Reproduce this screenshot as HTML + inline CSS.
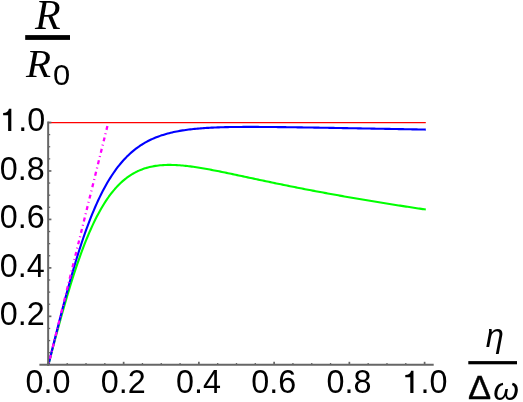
<!DOCTYPE html>
<html><head><meta charset="utf-8"><title>plot</title>
<style>
html,body{margin:0;padding:0;background:#fff;}
body{width:523px;height:402px;overflow:hidden;font-family:"Liberation Sans",sans-serif;}
svg{display:block;will-change:transform;}
svg text{font-family:"Liberation Sans",sans-serif;fill:#000;}
</style></head><body>
<svg width="523" height="402" viewBox="0 0 523 402">
<rect width="523" height="402" fill="#fff"/>
<line x1="48.40" y1="122.6" x2="425.8" y2="122.6" stroke="#ff0000" stroke-width="1.15"/>
<path d="M48.40,364.80 L49.91,358.99 L51.42,353.21 L52.93,347.46 L54.44,341.75 L55.95,336.09 L57.46,330.48 L58.97,324.93 L60.48,319.44 L61.99,314.02 L63.50,308.68 L65.01,303.42 L66.52,298.24 L68.02,293.15 L69.53,288.15 L71.04,283.25 L72.55,278.45 L74.06,273.75 L75.57,269.16 L77.08,264.68 L78.59,260.31 L80.10,256.05 L81.61,251.91 L83.12,247.87 L84.63,243.96 L86.14,240.16 L87.65,236.48 L89.16,232.91 L90.67,229.46 L92.18,226.13 L93.69,222.91 L95.20,219.81 L96.71,216.81 L98.22,213.93 L99.73,211.16 L101.24,208.50 L102.75,205.94 L104.26,203.49 L105.77,201.14 L107.27,198.89 L108.78,196.74 L110.29,194.69 L111.80,192.72 L113.31,190.85 L114.82,189.07 L116.33,187.37 L117.84,185.76 L119.35,184.23 L120.86,182.78 L122.37,181.40 L123.88,180.10 L125.39,178.87 L126.90,177.71 L128.41,176.61 L129.92,175.58 L131.43,174.62 L132.94,173.71 L134.45,172.86 L135.96,172.06 L137.47,171.32 L138.98,170.63 L140.49,169.99 L142.00,169.40 L143.51,168.85 L145.02,168.35 L146.52,167.88 L148.03,167.46 L149.54,167.08 L151.05,166.73 L152.56,166.42 L154.07,166.14 L155.58,165.89 L157.09,165.68 L158.60,165.49 L160.11,165.33 L161.62,165.20 L163.13,165.10 L164.64,165.01 L166.15,164.96 L167.66,164.92 L169.17,164.90 L170.68,164.91 L172.19,164.93 L173.70,164.98 L175.21,165.04 L176.72,165.11 L178.23,165.20 L179.74,165.31 L181.25,165.43 L182.76,165.56 L184.27,165.71 L185.77,165.87 L187.28,166.04 L188.79,166.22 L190.30,166.41 L191.81,166.61 L193.32,166.82 L194.83,167.04 L196.34,167.26 L197.85,167.50 L199.36,167.74 L200.87,167.98 L202.38,168.24 L203.89,168.50 L205.40,168.76 L206.91,169.03 L208.42,169.31 L209.93,169.58 L211.44,169.87 L212.95,170.16 L214.46,170.45 L215.97,170.74 L217.48,171.04 L218.99,171.34 L220.50,171.64 L222.01,171.95 L223.52,172.26 L225.02,172.57 L226.53,172.88 L228.04,173.19 L229.55,173.51 L231.06,173.82 L232.57,174.14 L234.08,174.46 L235.59,174.78 L237.10,175.10 L238.61,175.42 L240.12,175.74 L241.63,176.06 L243.14,176.39 L244.65,176.71 L246.16,177.03 L247.67,177.35 L249.18,177.68 L250.69,178.00 L252.20,178.32 L253.71,178.64 L255.22,178.96 L256.73,179.29 L258.24,179.61 L259.75,179.93 L261.26,180.25 L262.77,180.57 L264.27,180.89 L265.78,181.20 L267.29,181.52 L268.80,181.84 L270.31,182.15 L271.82,182.47 L273.33,182.78 L274.84,183.10 L276.35,183.41 L277.86,183.72 L279.37,184.03 L280.88,184.34 L282.39,184.65 L283.90,184.96 L285.41,185.26 L286.92,185.57 L288.43,185.87 L289.94,186.18 L291.45,186.48 L292.96,186.78 L294.47,187.08 L295.98,187.38 L297.49,187.68 L299.00,187.98 L300.51,188.28 L302.02,188.57 L303.52,188.86 L305.03,189.16 L306.54,189.45 L308.05,189.74 L309.56,190.03 L311.07,190.32 L312.58,190.61 L314.09,190.89 L315.60,191.18 L317.11,191.46 L318.62,191.75 L320.13,192.03 L321.64,192.31 L323.15,192.59 L324.66,192.87 L326.17,193.15 L327.68,193.43 L329.19,193.70 L330.70,193.98 L332.21,194.25 L333.72,194.53 L335.23,194.80 L336.74,195.07 L338.25,195.34 L339.76,195.61 L341.27,195.88 L342.77,196.14 L344.28,196.41 L345.79,196.68 L347.30,196.94 L348.81,197.20 L350.32,197.47 L351.83,197.73 L353.34,197.99 L354.85,198.25 L356.36,198.51 L357.87,198.77 L359.38,199.02 L360.89,199.28 L362.40,199.54 L363.91,199.79 L365.42,200.04 L366.93,200.30 L368.44,200.55 L369.95,200.80 L371.46,201.05 L372.97,201.30 L374.48,201.55 L375.99,201.80 L377.50,202.04 L379.01,202.29 L380.52,202.54 L382.02,202.78 L383.53,203.02 L385.04,203.27 L386.55,203.51 L388.06,203.75 L389.57,203.99 L391.08,204.23 L392.59,204.47 L394.10,204.71 L395.61,204.95 L397.12,205.18 L398.63,205.42 L400.14,205.66 L401.65,205.89 L403.16,206.13 L404.67,206.36 L406.18,206.59 L407.69,206.82 L409.20,207.05 L410.71,207.29 L412.22,207.52 L413.73,207.74 L415.24,207.97 L416.75,208.20 L418.26,208.43 L419.77,208.65 L421.27,208.88 L422.78,209.10 L424.29,209.33 L425.80,209.55" fill="none" stroke="#00ff00" stroke-width="2.1" stroke-linejoin="round"/>
<path d="M48.40,364.80 L49.91,358.69 L51.42,352.59 L52.93,346.51 L54.44,340.46 L55.95,334.43 L57.46,328.45 L58.97,322.51 L60.48,316.63 L61.99,310.80 L63.50,305.04 L65.01,299.36 L66.52,293.75 L68.02,288.23 L69.53,282.79 L71.04,277.45 L72.55,272.21 L74.06,267.07 L75.57,262.03 L77.08,257.11 L78.59,252.29 L80.10,247.59 L81.61,243.00 L83.12,238.52 L84.63,234.17 L86.14,229.93 L87.65,225.82 L89.16,221.82 L90.67,217.94 L92.18,214.18 L93.69,210.54 L95.20,207.01 L96.71,203.61 L98.22,200.31 L99.73,197.13 L101.24,194.06 L102.75,191.09 L104.26,188.24 L105.77,185.49 L107.27,182.84 L108.78,180.29 L110.29,177.84 L111.80,175.49 L113.31,173.23 L114.82,171.06 L116.33,168.97 L117.84,166.97 L119.35,165.06 L120.86,163.22 L122.37,161.46 L123.88,159.78 L125.39,158.17 L126.90,156.62 L128.41,155.15 L129.92,153.74 L131.43,152.39 L132.94,151.10 L134.45,149.87 L135.96,148.70 L137.47,147.58 L138.98,146.51 L140.49,145.49 L142.00,144.51 L143.51,143.58 L145.02,142.70 L146.52,141.86 L148.03,141.05 L149.54,140.29 L151.05,139.56 L152.56,138.87 L154.07,138.21 L155.58,137.58 L157.09,136.98 L158.60,136.42 L160.11,135.88 L161.62,135.36 L163.13,134.88 L164.64,134.41 L166.15,133.97 L167.66,133.56 L169.17,133.16 L170.68,132.78 L172.19,132.43 L173.70,132.09 L175.21,131.77 L176.72,131.46 L178.23,131.18 L179.74,130.90 L181.25,130.64 L182.76,130.40 L184.27,130.17 L185.77,129.95 L187.28,129.74 L188.79,129.55 L190.30,129.36 L191.81,129.19 L193.32,129.02 L194.83,128.87 L196.34,128.72 L197.85,128.58 L199.36,128.45 L200.87,128.33 L202.38,128.22 L203.89,128.11 L205.40,128.01 L206.91,127.91 L208.42,127.83 L209.93,127.74 L211.44,127.66 L212.95,127.59 L214.46,127.52 L215.97,127.46 L217.48,127.40 L218.99,127.35 L220.50,127.30 L222.01,127.25 L223.52,127.21 L225.02,127.17 L226.53,127.14 L228.04,127.10 L229.55,127.07 L231.06,127.05 L232.57,127.02 L234.08,127.00 L235.59,126.98 L237.10,126.96 L238.61,126.95 L240.12,126.94 L241.63,126.93 L243.14,126.92 L244.65,126.91 L246.16,126.91 L247.67,126.90 L249.18,126.90 L250.69,126.90 L252.20,126.90 L253.71,126.90 L255.22,126.91 L256.73,126.91 L258.24,126.92 L259.75,126.93 L261.26,126.93 L262.77,126.94 L264.27,126.95 L265.78,126.96 L267.29,126.97 L268.80,126.99 L270.31,127.00 L271.82,127.01 L273.33,127.03 L274.84,127.04 L276.35,127.06 L277.86,127.08 L279.37,127.09 L280.88,127.11 L282.39,127.13 L283.90,127.15 L285.41,127.17 L286.92,127.19 L288.43,127.21 L289.94,127.23 L291.45,127.25 L292.96,127.27 L294.47,127.29 L295.98,127.31 L297.49,127.33 L299.00,127.36 L300.51,127.38 L302.02,127.40 L303.52,127.43 L305.03,127.45 L306.54,127.47 L308.05,127.50 L309.56,127.52 L311.07,127.54 L312.58,127.57 L314.09,127.59 L315.60,127.62 L317.11,127.64 L318.62,127.67 L320.13,127.69 L321.64,127.72 L323.15,127.74 L324.66,127.77 L326.17,127.80 L327.68,127.82 L329.19,127.85 L330.70,127.87 L332.21,127.90 L333.72,127.92 L335.23,127.95 L336.74,127.98 L338.25,128.00 L339.76,128.03 L341.27,128.06 L342.77,128.08 L344.28,128.11 L345.79,128.14 L347.30,128.16 L348.81,128.19 L350.32,128.22 L351.83,128.24 L353.34,128.27 L354.85,128.30 L356.36,128.32 L357.87,128.35 L359.38,128.38 L360.89,128.41 L362.40,128.43 L363.91,128.46 L365.42,128.49 L366.93,128.51 L368.44,128.54 L369.95,128.57 L371.46,128.60 L372.97,128.62 L374.48,128.65 L375.99,128.68 L377.50,128.70 L379.01,128.73 L380.52,128.76 L382.02,128.79 L383.53,128.81 L385.04,128.84 L386.55,128.87 L388.06,128.90 L389.57,128.92 L391.08,128.95 L392.59,128.98 L394.10,129.01 L395.61,129.03 L397.12,129.06 L398.63,129.09 L400.14,129.11 L401.65,129.14 L403.16,129.17 L404.67,129.20 L406.18,129.22 L407.69,129.25 L409.20,129.28 L410.71,129.31 L412.22,129.33 L413.73,129.36 L415.24,129.39 L416.75,129.42 L418.26,129.44 L419.77,129.47 L421.27,129.50 L422.78,129.53 L424.29,129.55 L425.80,129.58" fill="none" stroke="#0000ff" stroke-width="2.1" stroke-linejoin="round"/>
<line x1="107.41" y1="126.0" x2="48.40" y2="364.80" stroke="#ff00ff" stroke-width="2.3" stroke-dasharray="4.0 3.4 1.0 3.39"/>
<line x1="39.4" y1="364.8" x2="433.7" y2="364.8" stroke="#666666" stroke-width="2"/>
<line x1="48.15" y1="121.5" x2="48.15" y2="365.8" stroke="#666666" stroke-width="2"/>
<line x1="48.40" y1="364.8" x2="48.40" y2="361.80" stroke="#666666" stroke-width="1.7"/>
<line x1="67.21" y1="364.8" x2="67.21" y2="363.00" stroke="#666666" stroke-width="1.3"/>
<line x1="86.02" y1="364.8" x2="86.02" y2="363.00" stroke="#666666" stroke-width="1.3"/>
<line x1="104.83" y1="364.8" x2="104.83" y2="363.00" stroke="#666666" stroke-width="1.3"/>
<line x1="123.64" y1="364.8" x2="123.64" y2="361.80" stroke="#666666" stroke-width="1.7"/>
<line x1="142.45" y1="364.8" x2="142.45" y2="363.00" stroke="#666666" stroke-width="1.3"/>
<line x1="161.26" y1="364.8" x2="161.26" y2="363.00" stroke="#666666" stroke-width="1.3"/>
<line x1="180.07" y1="364.8" x2="180.07" y2="363.00" stroke="#666666" stroke-width="1.3"/>
<line x1="198.88" y1="364.8" x2="198.88" y2="361.80" stroke="#666666" stroke-width="1.7"/>
<line x1="217.69" y1="364.8" x2="217.69" y2="363.00" stroke="#666666" stroke-width="1.3"/>
<line x1="236.50" y1="364.8" x2="236.50" y2="363.00" stroke="#666666" stroke-width="1.3"/>
<line x1="255.31" y1="364.8" x2="255.31" y2="363.00" stroke="#666666" stroke-width="1.3"/>
<line x1="274.12" y1="364.8" x2="274.12" y2="361.80" stroke="#666666" stroke-width="1.7"/>
<line x1="292.93" y1="364.8" x2="292.93" y2="363.00" stroke="#666666" stroke-width="1.3"/>
<line x1="311.74" y1="364.8" x2="311.74" y2="363.00" stroke="#666666" stroke-width="1.3"/>
<line x1="330.55" y1="364.8" x2="330.55" y2="363.00" stroke="#666666" stroke-width="1.3"/>
<line x1="349.36" y1="364.8" x2="349.36" y2="361.80" stroke="#666666" stroke-width="1.7"/>
<line x1="368.17" y1="364.8" x2="368.17" y2="363.00" stroke="#666666" stroke-width="1.3"/>
<line x1="386.98" y1="364.8" x2="386.98" y2="363.00" stroke="#666666" stroke-width="1.3"/>
<line x1="405.79" y1="364.8" x2="405.79" y2="363.00" stroke="#666666" stroke-width="1.3"/>
<line x1="424.60" y1="364.8" x2="424.60" y2="361.80" stroke="#666666" stroke-width="1.7"/>
<line x1="48.4" y1="352.69" x2="50.20" y2="352.69" stroke="#666666" stroke-width="1.3"/>
<line x1="48.4" y1="340.57" x2="50.20" y2="340.57" stroke="#666666" stroke-width="1.3"/>
<line x1="48.4" y1="328.45" x2="50.20" y2="328.45" stroke="#666666" stroke-width="1.3"/>
<line x1="48.4" y1="316.34" x2="51.40" y2="316.34" stroke="#666666" stroke-width="1.7"/>
<line x1="48.4" y1="304.23" x2="50.20" y2="304.23" stroke="#666666" stroke-width="1.3"/>
<line x1="48.4" y1="292.11" x2="50.20" y2="292.11" stroke="#666666" stroke-width="1.3"/>
<line x1="48.4" y1="280.00" x2="50.20" y2="280.00" stroke="#666666" stroke-width="1.3"/>
<line x1="48.4" y1="267.88" x2="51.40" y2="267.88" stroke="#666666" stroke-width="1.7"/>
<line x1="48.4" y1="255.76" x2="50.20" y2="255.76" stroke="#666666" stroke-width="1.3"/>
<line x1="48.4" y1="243.65" x2="50.20" y2="243.65" stroke="#666666" stroke-width="1.3"/>
<line x1="48.4" y1="231.53" x2="50.20" y2="231.53" stroke="#666666" stroke-width="1.3"/>
<line x1="48.4" y1="219.42" x2="51.40" y2="219.42" stroke="#666666" stroke-width="1.7"/>
<line x1="48.4" y1="207.31" x2="50.20" y2="207.31" stroke="#666666" stroke-width="1.3"/>
<line x1="48.4" y1="195.19" x2="50.20" y2="195.19" stroke="#666666" stroke-width="1.3"/>
<line x1="48.4" y1="183.07" x2="50.20" y2="183.07" stroke="#666666" stroke-width="1.3"/>
<line x1="48.4" y1="170.96" x2="51.40" y2="170.96" stroke="#666666" stroke-width="1.7"/>
<line x1="48.4" y1="158.84" x2="50.20" y2="158.84" stroke="#666666" stroke-width="1.3"/>
<line x1="48.4" y1="146.73" x2="50.20" y2="146.73" stroke="#666666" stroke-width="1.3"/>
<line x1="48.4" y1="134.61" x2="50.20" y2="134.61" stroke="#666666" stroke-width="1.3"/>
<line x1="48.4" y1="122.50" x2="51.40" y2="122.50" stroke="#666666" stroke-width="1.7"/>
<text transform="translate(25.50,393.10) scale(0.972,1)" font-size="33.3">0.0</text>
<text transform="translate(100.74,393.10) scale(0.972,1)" font-size="33.3">0.2</text>
<text transform="translate(175.98,393.10) scale(0.972,1)" font-size="33.3">0.4</text>
<text transform="translate(251.22,393.10) scale(0.972,1)" font-size="33.3">0.6</text>
<text transform="translate(326.46,393.10) scale(0.972,1)" font-size="33.3">0.8</text>
<path d="M346 0 L246 0 L246 -497 L90 -497 L90 -566 C190 -568 248 -600 272 -700 L346 -700 Z" transform="translate(402.40,393.10) scale(0.032,0.032)" fill="#000"/>
<text transform="translate(420.40,393.10) scale(0.972,1)" font-size="33.3">.0</text>
<text transform="translate(-0.14,325.34) scale(0.972,1)" font-size="33.3">0.2</text>
<text transform="translate(-0.14,276.88) scale(0.972,1)" font-size="33.3">0.4</text>
<text transform="translate(-0.14,228.42) scale(0.972,1)" font-size="33.3">0.6</text>
<text transform="translate(-0.14,179.96) scale(0.972,1)" font-size="33.3">0.8</text>
<path d="M346 0 L246 0 L246 -497 L90 -497 L90 -566 C190 -568 248 -600 272 -700 L346 -700 Z" transform="translate(0.26,131.05) scale(0.032,0.032)" fill="#000"/>
<text transform="translate(18.26,131.05) scale(0.972,1)" font-size="33.3">.0</text>
<text x="34.9" y="29.1" style="font-family:&quot;Liberation Serif&quot;,serif;font-style:italic" font-size="42">R</text>
<rect x="25.2" y="35.1" width="44.8" height="4.8" fill="#000"/>
<text x="26.1" y="76.8" style="font-family:&quot;Liberation Serif&quot;,serif;font-style:italic" font-size="41">R</text>
<text transform="translate(53.1,85) scale(1.03,1)" font-size="30">0</text>
<text x="485.7" y="346.8" font-style="italic" font-size="32.6">η</text>
<rect x="468.3" y="361.1" width="48.7" height="3.2" fill="#000"/>
<text transform="translate(468.1,399.2) scale(1.04,1)" font-size="33.3" stroke="#000" stroke-width="0.35">Δ</text>
<text transform="translate(493.2,399.9) scale(1.03,1)" font-style="italic" font-size="32">ω</text>
</svg>
</body></html>
